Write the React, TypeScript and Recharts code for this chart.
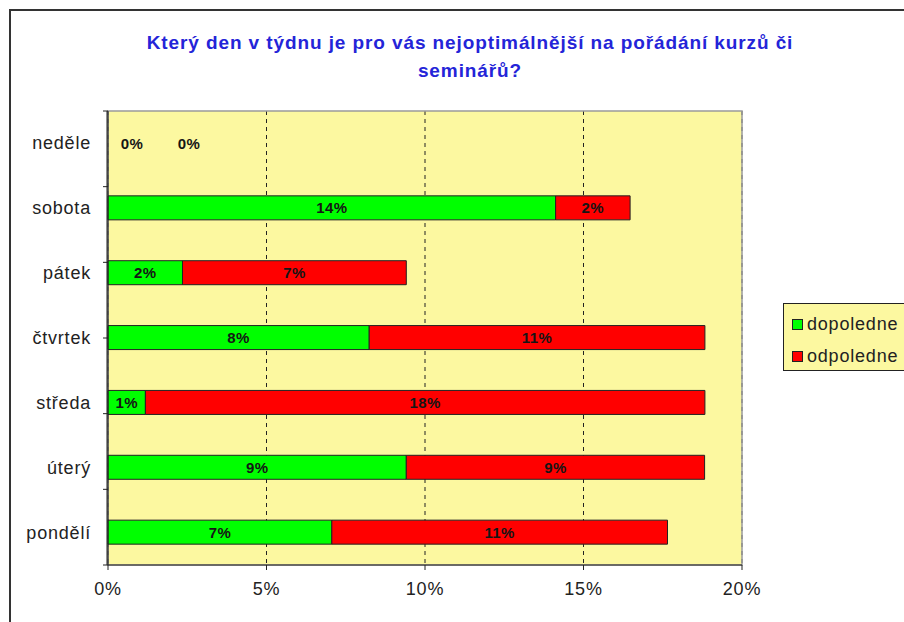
import React from 'react';
import {
  BarChart,
  Bar,
  XAxis,
  YAxis,
  CartesianGrid,
  LabelList,
  ReferenceArea,
} from 'recharts';

// days listed top to bottom as in the chart
const days = ['neděle', 'sobota', 'pátek', 'čtvrtek', 'středa', 'úterý', 'pondělí'];
const dopoledne = [0, 14.12, 2.35, 8.24, 1.18, 9.41, 7.06];
const odpoledne = [0, 2.35, 7.06, 10.59, 17.65, 9.41, 10.59];
const xTicks = [0, 5, 10, 15, 20];
const boundaryTicks = [0, 1, 2, 3, 4, 5, 6, 7];

const data = days.map((day, i) => ({
  day,
  dopoledne: dopoledne[i],
  odpoledne: odpoledne[i],
}));

const FONT = '"Liberation Sans", Arial, sans-serif';

const labelText = (x: number, y: number, value: number) => (
  <text
    x={x}
    y={y}
    textAnchor="middle"
    dominantBaseline="central"
    fontFamily={FONT}
    fontWeight="bold"
    fontSize={15}
    letterSpacing={0.4}
    fill="#151515"
  >
    {Math.round(value)}%
  </text>
);

const barLabel = (props: any) => {
  const { x, y, width, height, value } = props;
  if (!value) return null;
  return labelText(x + width / 2, y + height / 2, value);
};

// day name; a zero value has no bar, so its label is hung off the tick row
const DayTick = (props: any) => {
  const { x, y, payload } = props;
  const i = payload.index ?? days.indexOf(payload.value);
  return (
    <g>
      <text
        x={x}
        y={y}
        textAnchor="end"
        dominantBaseline="central"
        fontFamily={FONT}
        fontSize={18}
        letterSpacing={0.8}
        fill="#222"
      >
        {payload.value}
      </text>
      {dopoledne[i] === 0 && labelText(x + 41, y, 0)}
      {odpoledne[i] === 0 && labelText(x + 98, y, 0)}
    </g>
  );
};

const legendItems = [
  { name: 'dopoledne', color: '#00ff00' },
  { name: 'odpoledne', color: '#ff0000' },
];

export default function App() {
  return (
    <div
      style={{
        position: 'absolute',
        left: 0,
        top: 0,
        width: 904,
        height: 622,
        overflow: 'hidden',
        background: '#fff',
      }}
    >
      <div
        style={{
          position: 'absolute',
          left: 9,
          top: 9,
          width: 920,
          height: 640,
          borderLeft: '2px solid #333',
          borderTop: '2px solid #333',
        }}
      />
      <div
        style={{
          position: 'absolute',
          left: 0,
          width: 940,
          top: 29,
          textAlign: 'center',
          fontFamily: FONT,
          fontWeight: 'bold',
          fontSize: 19,
          letterSpacing: 0.9,
          lineHeight: '28px',
          color: '#2424d8',
        }}
      >
        Který den v týdnu je pro vás nejoptimálnější na pořádání kurzů či
        <br />
        seminářů?
      </div>
      <div style={{ position: 'absolute', left: 0, top: 0 }}>
        <BarChart
          width={904}
          height={622}
          data={data}
          layout="vertical"
          margin={{ top: 111, right: 162, bottom: 0, left: 7 }}
          barSize={24}
        >
          <CartesianGrid
            horizontal={false}
            stroke="#222"
            strokeDasharray="4 4"
            fill="#fcf8a0"
            fillOpacity={1}
          />
          <ReferenceArea x1={0} x2={20} fill="none" stroke="#9a9a9a" strokeWidth={1.5} />
          <XAxis
            type="number"
            domain={[0, 20]}
            ticks={xTicks}
            tickFormatter={(v) => `${v}%`}
            stroke="#222"
            tickSize={5}
            tickMargin={12}
            height={57}
            tick={{ fontFamily: FONT, fontSize: 18, letterSpacing: 0.8, fill: '#222' }}
          />
          <YAxis
            yAxisId="cat"
            type="category"
            dataKey="day"
            width={100}
            stroke="#222"
            tickLine={false}
            tickSize={4}
            tickMargin={12}
            tick={DayTick}
          />
          <YAxis
            yAxisId="bounds"
            type="number"
            domain={[0, 7]}
            allowDataOverflow
            ticks={boundaryTicks}
            interval={0}
            width={1}
            tickFormatter={() => ''}
            tickSize={5}
            stroke="#222"
          />
          <Bar
            yAxisId="cat"
            dataKey="dopoledne"
            stackId="a"
            fill="#00ff00"
            stroke="#222"
            strokeWidth={1}
            isAnimationActive={false}
          >
            <LabelList dataKey="dopoledne" content={barLabel} />
          </Bar>
          <Bar
            yAxisId="cat"
            dataKey="odpoledne"
            stackId="a"
            fill="#ff0000"
            stroke="#222"
            strokeWidth={1}
            isAnimationActive={false}
          >
            <LabelList dataKey="odpoledne" content={barLabel} />
          </Bar>
        </BarChart>
      </div>
      <div
        style={{
          position: 'absolute',
          left: 783,
          top: 303,
          width: 130,
          height: 68,
          boxSizing: 'border-box',
          border: '1px solid #222',
          background: '#fcf8a0',
          fontFamily: FONT,
          fontSize: 18,
          letterSpacing: 0.8,
          color: '#222',
          padding: '4px 0 0 8px',
        }}
      >
        {legendItems.map((item) => (
          <div key={item.name} style={{ display: 'flex', alignItems: 'center', height: 32 }}>
            <span
              style={{
                width: 9,
                height: 9,
                background: item.color,
                border: '1px solid #222',
                marginRight: 4,
              }}
            />
            {item.name}
          </div>
        ))}
      </div>
    </div>
  );
}
